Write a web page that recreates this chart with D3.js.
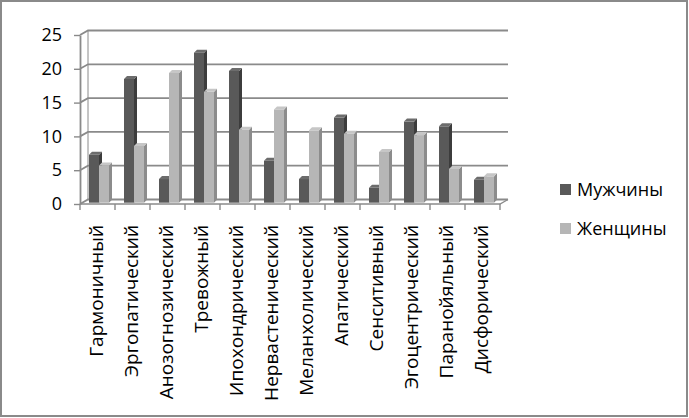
<!DOCTYPE html>
<html>
<head>
<meta charset="utf-8">
<script src="https://cdn.jsdelivr.net/npm/d3@7"></script>
<style>
  body { margin: 0; background: #fff; }
  text { font-family: "Open Sans", "DejaVu Sans", sans-serif; fill: #000; }
</style>
</head>
<body>
<div id="chart"></div>
<script>
var categories = ["Гармоничный", "Эргопатический", "Анозогнозический", "Тревожный",
    "Ипохондрический", "Нервастенический", "Меланхолический", "Апатический",
    "Сенситивный", "Эгоцентрический", "Паранойяльный", "Дисфорический"];
var men   = [7.1, 18.3, 3.5, 22.2, 19.5, 6.2, 3.5, 12.6, 2.2, 12.0, 11.3, 3.4];
var women = [5.5, 8.4, 19.2, 16.4, 10.8, 13.8, 10.7, 10.2, 7.5, 10.0, 5.0, 3.9];
var seriesNames = ["Мужчины", "Женщины"];
var yTicks = [0, 5, 10, 15, 20, 25];

var svgWidth = 689, svgHeight = 418;

// depth offsets of the 3d box (back wall) and of the bars
var depth = { dx: 8, dy: -4.5 };
var barDepth = { dx: 3, dy: -3 };
var barShift = { dx: 2, dy: -1.3 };

var colors = {
    dark:  { front: "#595959", side: "#3c3c3c", top: "#6c6c6c" },
    light: { front: "#b6b6b6", side: "#8c8c8c", top: "#c6c6c6" }
};

var svg = d3.select("#chart")
    .append("svg")
    .attr("width", svgWidth)
    .attr("height", svgHeight);

// outer frame
svg.append("rect")
    .attr("x", 1).attr("y", 1)
    .attr("width", 686).attr("height", 415)
    .attr("fill", "#fff")
    .attr("stroke", "#8a8a8a")
    .attr("stroke-width", 2);

var x = d3.scaleBand()
    .domain(categories)
    .range([80, 500]);

var y = d3.scaleLinear()
    .domain([0, 25])
    .range([204, 35]);

var grid = svg.append("g").attr("stroke", "#8a8a8a").attr("fill", "none");

// back wall gridlines and left wall diagonals
yTicks.forEach(function(t) {
    var yy = y(t);
    grid.append("path")
        .attr("stroke-width", 1.8)
        .attr("d", "M80," + yy + "L" + (80 + depth.dx) + "," + (yy + depth.dy) +
            "L" + (500 + depth.dx) + "," + (yy + depth.dy));
});

// left wall back edge
grid.append("line")
    .attr("x1", 80 + depth.dx).attr("x2", 80 + depth.dx)
    .attr("y1", y(25) + depth.dy).attr("y2", y(0) + depth.dy)
    .attr("stroke-width", 1);

// floor
grid.append("path")
    .attr("stroke-width", 1.4)
    .attr("d", "M80," + y(0) + "L500," + y(0) + "L" + (500 + depth.dx) + "," + (y(0) + depth.dy));

// value axis
var leftAxis = d3.axisLeft(y).tickValues(yTicks).tickSize(6).tickSizeOuter(0).tickPadding(12);
var yAxis = svg.append("g")
    .attr("transform", "translate(80,0)")
    .call(leftAxis);
yAxis.select(".domain").attr("stroke", "#8a8a8a").attr("stroke-width", 1.8);
yAxis.selectAll(".tick line").attr("stroke", "#8a8a8a").attr("stroke-width", 1.4);
yAxis.selectAll(".tick text")
    .attr("font-size", 18)
    .attr("font-family", "'Open Sans', sans-serif")
    .attr("fill", "#000");

// category axis ticks
svg.append("g").selectAll("line")
    .data(d3.range(categories.length + 1))
    .enter()
    .append("line")
    .attr("x1", function(i) { return 80 + i * x.bandwidth(); })
    .attr("x2", function(i) { return 80 + i * x.bandwidth(); })
    .attr("y1", y(0))
    .attr("y2", y(0) + 6)
    .attr("stroke", "#8a8a8a")
    .attr("stroke-width", 1.4);

// category labels
svg.append("g").selectAll("text")
    .data(categories)
    .enter()
    .append("text")
    .attr("transform", function(d) {
        return "translate(" + (x(d) + x.bandwidth() / 2 - 1) + ",225) rotate(-90)";
    })
    .attr("text-anchor", "end")
    .attr("dy", "0.35em")
    .attr("font-size", 19)
    .text(function(d) { return d; });

// bars
var barW = 10;
var bars = [];
categories.forEach(function(c, i) {
    bars.push({ cat: c, value: men[i], offset: 7, col: colors.dark });
    bars.push({ cat: c, value: women[i], offset: 7 + barW, col: colors.light });
});

var barG = svg.append("g");
bars.forEach(function(b) {
    var x0 = x(b.cat) + b.offset + barShift.dx;
    var x1 = x0 + barW;
    var yb = y(0) + barShift.dy;
    var yt = y(b.value) + barShift.dy;
    var g = barG.append("g");
    g.append("rect")
        .attr("x", x0).attr("y", yt)
        .attr("width", barW).attr("height", yb - yt)
        .attr("fill", b.col.front);
    g.append("path")
        .attr("fill", b.col.side)
        .attr("d", "M" + x1 + "," + yt + "L" + (x1 + barDepth.dx) + "," + (yt + barDepth.dy) +
            "L" + (x1 + barDepth.dx) + "," + (yb + barDepth.dy) + "L" + x1 + "," + yb + "Z");
    g.append("path")
        .attr("fill", b.col.top)
        .attr("d", "M" + x0 + "," + yt + "L" + x1 + "," + yt + "L" + (x1 + barDepth.dx) + "," + (yt + barDepth.dy) +
            "L" + (x0 + barDepth.dx) + "," + (yt + barDepth.dy) + "Z");
});

// legend
var legend = svg.append("g");
seriesNames.forEach(function(name, i) {
    var ly = 184 + i * 39;
    legend.append("rect")
        .attr("x", 560).attr("y", ly)
        .attr("width", 11).attr("height", 11)
        .attr("fill", i === 0 ? colors.dark.front : colors.light.front);
    legend.append("text")
        .attr("x", 577).attr("y", ly + 12)
        .attr("font-size", 18)
        .text(name);
});
</script>
</body>
</html>
